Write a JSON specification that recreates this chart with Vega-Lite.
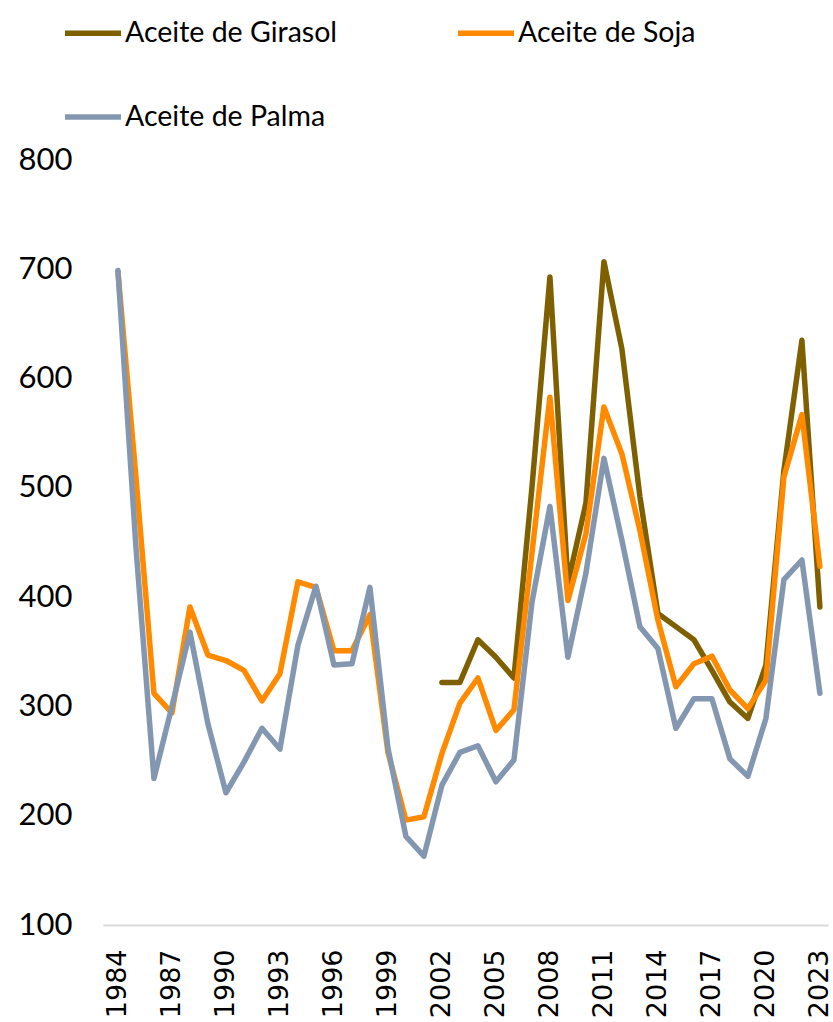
{
  "$schema": "https://vega.github.io/schema/vega-lite/v6.json",
  "width": 725,
  "height": 765,
  "autosize": {"type": "none"},
  "padding": {"left": 103, "top": 160, "right": 5, "bottom": 97},
  "background": "white",
  "config": {"view": {"stroke": null}},
  "datasets": {
    "girasol": [
      {"year": 2002, "value": 322}, {"year": 2003, "value": 322}, {"year": 2004, "value": 361}, {"year": 2005, "value": 345},
      {"year": 2006, "value": 326}, {"year": 2007, "value": 500}, {"year": 2008, "value": 693}, {"year": 2009, "value": 413},
      {"year": 2010, "value": 486}, {"year": 2011, "value": 707}, {"year": 2012, "value": 627}, {"year": 2013, "value": 492},
      {"year": 2014, "value": 385}, {"year": 2015, "value": 373}, {"year": 2016, "value": 361}, {"year": 2017, "value": 333},
      {"year": 2018, "value": 304}, {"year": 2019, "value": 289}, {"year": 2020, "value": 338}, {"year": 2021, "value": 516},
      {"year": 2022, "value": 635}, {"year": 2023, "value": 391}
    ],
    "soja": [
      {"year": 1984, "value": 698}, {"year": 1985, "value": 510}, {"year": 1986, "value": 312}, {"year": 1987, "value": 294},
      {"year": 1988, "value": 391}, {"year": 1989, "value": 347}, {"year": 1990, "value": 342}, {"year": 1991, "value": 333},
      {"year": 1992, "value": 305}, {"year": 1993, "value": 330}, {"year": 1994, "value": 414}, {"year": 1995, "value": 409},
      {"year": 1996, "value": 351}, {"year": 1997, "value": 351}, {"year": 1998, "value": 384}, {"year": 1999, "value": 258},
      {"year": 2000, "value": 196}, {"year": 2001, "value": 199}, {"year": 2002, "value": 257}, {"year": 2003, "value": 303},
      {"year": 2004, "value": 326}, {"year": 2005, "value": 278}, {"year": 2006, "value": 297}, {"year": 2007, "value": 440},
      {"year": 2008, "value": 583}, {"year": 2009, "value": 397}, {"year": 2010, "value": 458}, {"year": 2011, "value": 574},
      {"year": 2012, "value": 531}, {"year": 2013, "value": 461}, {"year": 2014, "value": 379}, {"year": 2015, "value": 318},
      {"year": 2016, "value": 339}, {"year": 2017, "value": 346}, {"year": 2018, "value": 315}, {"year": 2019, "value": 298},
      {"year": 2020, "value": 324}, {"year": 2021, "value": 510}, {"year": 2022, "value": 567}, {"year": 2023, "value": 428}
    ],
    "palma": [
      {"year": 1984, "value": 699}, {"year": 1985, "value": 446}, {"year": 1986, "value": 234}, {"year": 1987, "value": 300},
      {"year": 1988, "value": 368}, {"year": 1989, "value": 284}, {"year": 1990, "value": 221}, {"year": 1991, "value": 249},
      {"year": 1992, "value": 280}, {"year": 1993, "value": 261}, {"year": 1994, "value": 356}, {"year": 1995, "value": 410},
      {"year": 1996, "value": 338}, {"year": 1997, "value": 339}, {"year": 1998, "value": 409}, {"year": 1999, "value": 262},
      {"year": 2000, "value": 181}, {"year": 2001, "value": 163}, {"year": 2002, "value": 228}, {"year": 2003, "value": 258},
      {"year": 2004, "value": 264}, {"year": 2005, "value": 231}, {"year": 2006, "value": 251}, {"year": 2007, "value": 395},
      {"year": 2008, "value": 483}, {"year": 2009, "value": 345}, {"year": 2010, "value": 422}, {"year": 2011, "value": 527},
      {"year": 2012, "value": 452}, {"year": 2013, "value": 373}, {"year": 2014, "value": 353}, {"year": 2015, "value": 280},
      {"year": 2016, "value": 307}, {"year": 2017, "value": 307}, {"year": 2018, "value": 252}, {"year": 2019, "value": 236},
      {"year": 2020, "value": 289}, {"year": 2021, "value": 416}, {"year": 2022, "value": 434}, {"year": 2023, "value": 312}
    ]
  },
  "data": {"name": "palma"},
  "layer": [
    {
      "data": {"name": "girasol"},
      "transform": [{"calculate": "'Aceite de Girasol'", "as": "serie"}],
      "mark": {"type": "line", "strokeWidth": 5.5, "strokeCap": "round", "strokeJoin": "round"},
      "encoding": {
        "x": {"field": "year", "type": "quantitative"},
        "y": {"field": "value", "type": "quantitative"},
        "color": {"field": "serie", "type": "nominal"}
      }
    },
    {
      "data": {"name": "soja"},
      "transform": [{"calculate": "'Aceite de Soja'", "as": "serie"}],
      "mark": {"type": "line", "strokeWidth": 5.5, "strokeCap": "round", "strokeJoin": "round"},
      "encoding": {
        "x": {"field": "year", "type": "quantitative"},
        "y": {"field": "value", "type": "quantitative"},
        "color": {"field": "serie", "type": "nominal"}
      }
    },
    {
      "data": {"name": "palma"},
      "transform": [{"calculate": "'Aceite de Palma'", "as": "serie"}],
      "mark": {"type": "line", "strokeWidth": 5.5, "strokeCap": "round", "strokeJoin": "round"},
      "encoding": {
        "x": {
          "field": "year", "type": "quantitative",
          "scale": {"domain": [1983.17, 2023.45], "nice": false, "zero": false},
          "axis": {
            "title": null,
            "values": [1984, 1987, 1990, 1993, 1996, 1999, 2002, 2005, 2008, 2011, 2014, 2017, 2020, 2023],
            "format": "d",
            "labelAngle": -90,
            "labelAlign": "right",
            "labelBaseline": "middle",
            "labelFont": "DejaVu Sans",
            "labelFontSize": 27,
            "labelColor": "#000000",
            "labelPadding": 24,
            "ticks": false,
            "grid": false,
            "domainColor": "#d9d9d9",
            "domainWidth": 2,
            "labelOverlap": false
          }
        },
        "y": {
          "field": "value", "type": "quantitative",
          "scale": {"domain": [100, 800], "nice": false, "zero": false},
          "axis": {
            "title": null,
            "values": [100, 200, 300, 400, 500, 600, 700, 800],
            "labelFont": "Lato",
            "labelFontSize": 31,
            "labelColor": "#000000",
            "labelPadding": 31,
            "ticks": false,
            "grid": false,
            "domain": false
          }
        },
        "color": {
          "field": "serie", "type": "nominal",
          "scale": {
            "domain": ["Aceite de Girasol", "Aceite de Soja", "Aceite de Palma"],
            "range": ["#7F6000", "#FF8A00", "#8497B0"]
          },
          "legend": {
            "title": null,
            "orient": "none",
            "legendX": -41,
            "legendY": -158,
            "direction": "horizontal",
            "columns": 2,
            "columnPadding": 109,
            "rowPadding": 38,
            "symbolType": "stroke",
            "symbolSize": 3136,
            "symbolStrokeWidth": 5.5,
            "labelFont": "Lato",
            "labelFontSize": 28.5,
            "labelColor": "#000000",
            "labelOffset": 1,
            "labelLimit": 400
          }
        }
      }
    }
  ]
}
